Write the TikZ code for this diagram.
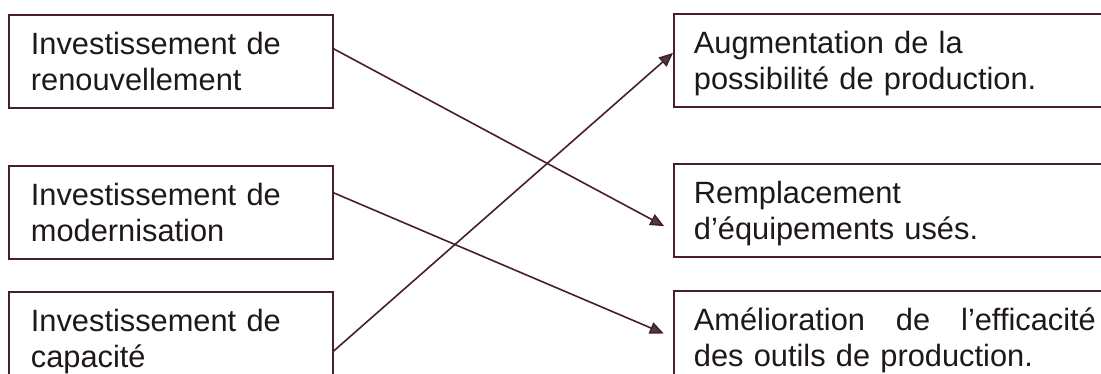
\documentclass[tikz,border=0pt]{standalone}
\usepackage{fontspec}
\setmainfont{Liberation Sans}
\usepackage{xcolor}
\usetikzlibrary{positioning}
\usetikzlibrary{arrows.meta}
\definecolor{boxline}{RGB}{72,30,42}
\definecolor{inktext}{RGB}{30,24,28}
\definecolor{tipgray}{RGB}{70,62,66}
\tikzset{lbox/.style = {draw=boxline, line width=0.9pt, rectangle, anchor=north west,
    minimum height=46.5pt, inner xsep=11pt, inner ysep=0pt, text width=140pt,
    text height=11pt, text depth=17.5pt, align=left, text=inktext,
    font=\fontsize{15.4}{17.6}\selectfont}}
\tikzset{rbox/.style = {lbox, inner xsep=10pt, text width=201pt}}
\tikzset{link/.style = {draw=boxline, line width=0.8pt,
    -{Triangle[length=7pt, width=6pt, fill=tipgray]}}}

\begin{document}
\begin{tikzpicture}[x=0.5pt, y=-0.5pt]
    \useasboundingbox (0,0) rectangle (1101,374);
    % left column
    \node[lbox] (renouv) at (8,14) {Investissement de\\renouvellement};
    \node[lbox] (modern) at (8,165) {Investissement de\\modernisation};
    \node[lbox] (capac) at (8,291) {Investissement de\\capacité};
    % right column
    \node[rbox] (augm) at (673,13) {Augmentation de la\\possibilité de production.};
    \node[rbox] (rempl) at (673,163) {Remplacement\\d’équipements usés.};
    \node[rbox] (amelio) at (673,290) {Amélioration\hfill de\hfill l’efficacité\\des outils de production.};
    % links
    \foreach \a/\sa/\b/\sb/\gap in {renouv/6.25/rempl/-10.25/5, modern/9.75/amelio/0/5, capac/-6.25/augm/3.75/0} {
        \draw[link, shorten >=\gap pt] ([yshift=\sa pt]\a.east) -- ([yshift=\sb pt]\b.west);
    }
  \end{tikzpicture}
\end{document}
